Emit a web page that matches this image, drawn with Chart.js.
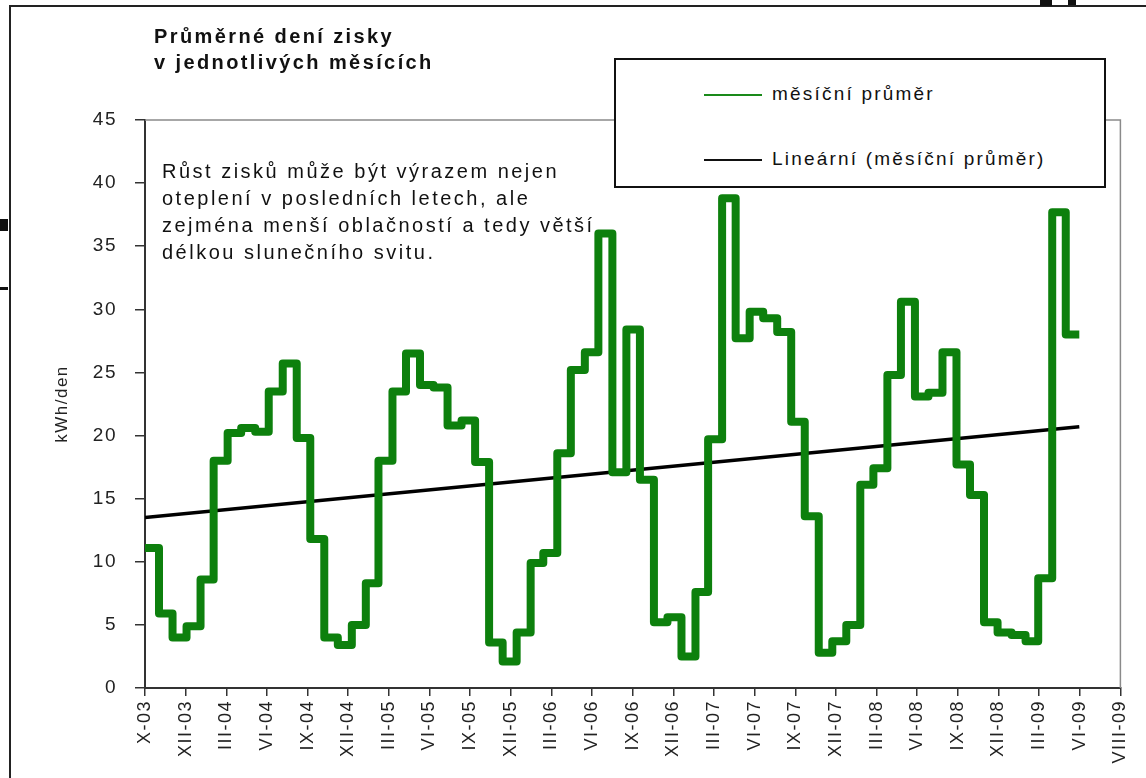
<!DOCTYPE html>
<html lang="cs">
<head>
  <meta charset="UTF-8" />
  <title>Průměrné dení zisky v jednotlivých měsících</title>
  <script src="https://cdn.jsdelivr.net/npm/chart.js@4"></script>
  <style>
    html, body { margin: 0; padding: 0; background: #fff; }
    body { font-family: "Liberation Sans", Arial, sans-serif; color: #111; }
    #wrap { position: relative; width: 1146px; height: 778px; overflow: hidden; }
    #frame { position: absolute; left: 9px; top: 5px; width: 1160px; height: 800px; border-left: 2px solid #222; border-top: 2px solid #222; }
    .scrap { position: absolute; background: #111; }
    #title { position: absolute; left: 154px; top: 23px; font-weight: bold; font-size: 20px; line-height: 26px; letter-spacing: 2.4px; }
    #note { position: absolute; left: 162px; top: 158px; font-size: 20px; line-height: 27px; letter-spacing: 2.5px; }
    #legend { position: absolute; left: 614px; top: 58px; width: 488px; height: 126px; border: 2px solid #111; background: #fff; }
    .leg-item { position: absolute; left: 88px; font-size: 19px; letter-spacing: 2.2px; line-height: 22px; }
    .leg-item span.ln { display: inline-block; width: 58px; height: 2px; vertical-align: middle; margin-right: 10px; }
    canvas { position: absolute; left: 0; top: 0; }
  </style>
</head>
<body>
  <div id="wrap">
    <div id="frame"></div>
    <div class="scrap" style="left:0;top:219px;width:8px;height:12px"></div>
    <div class="scrap" style="left:0;top:287px;width:8px;height:3px"></div>
    <div class="scrap" style="left:1040px;top:0;width:12px;height:6px"></div>
    <div class="scrap" style="left:1068px;top:0;width:8px;height:5px"></div>
    <canvas id="chart" width="1146" height="778"></canvas>
    <div id="title">Průměrné dení zisky<br>v jednotlivých měsících</div>
    <div id="note">Růst zisků může být výrazem nejen<br>oteplení v posledních letech, ale<br>zejména menší oblačností a tedy větší<br>délkou slunečního svitu.</div>
    <div id="legend">
      <div class="leg-item" style="top:23px"><span class="ln" style="background:#1a8a1a"></span>měsíční průměr</div>
      <div class="leg-item" style="top:88px"><span class="ln" style="background:#111"></span>Lineární (měsíční průměr)</div>
    </div>
  </div>

  <script>
    // měsíční průměry kWh/den, od X-2003 do V-2009
    const avg2003 = [11.1, 5.9, 4.0];                                                  // X-XII
    const avg2004 = [4.9, 8.6, 18.0, 20.2, 20.6, 20.3, 23.5, 25.7, 19.8, 11.8, 4.0, 3.4];
    const avg2005 = [5.0, 8.3, 18.0, 23.5, 26.5, 24.0, 23.8, 20.8, 21.2, 17.9, 3.6, 2.1];
    const avg2006 = [4.4, 9.9, 10.7, 18.6, 25.2, 26.6, 36.0, 17.1, 28.4, 16.5, 5.2, 5.6];
    const avg2007 = [2.5, 7.6, 19.7, 38.8, 27.7, 29.8, 29.3, 28.2, 21.1, 13.6, 2.8, 3.7];
    const avg2008 = [5.0, 16.1, 17.4, 24.8, 30.6, 23.1, 23.4, 26.6, 17.7, 15.3, 5.2, 4.4];
    const avg2009 = [4.2, 3.7, 8.7, 37.7, 28.0];                                       // I-V

    const years = [2003, 2004, 2005, 2006, 2007, 2008, 2009];
    const yearSeries = [avg2003, avg2004, avg2005, avg2006, avg2007, avg2008, avg2009];
    const firstMonth = [10, 1, 1, 1, 1, 1, 1];

    // lineární trend: hodnota na začátku a na konci řady
    const trendEnds = [13.5, 20.7];

    // popisky osy x (po 90 dnech od 1.10.2003)
    const xTickLabels = ['X-03', 'XII-03', 'III-04', 'VI-04', 'IX-04', 'XII-04', 'III-05', 'VI-05', 'IX-05',
      'XII-05', 'III-06', 'VI-06', 'IX-06', 'XII-06', 'III-07', 'VI-07', 'IX-07', 'XII-07', 'III-08',
      'VI-08', 'IX-08', 'XII-08', 'III-09', 'VI-09', 'VIII-09'];

    const origin = Date.UTC(2003, 9, 1);
    const dayOf = (y, m, d = 1) => (Date.UTC(y, m - 1, d) - origin) / 86400000;

    const monthly = [];
    yearSeries.forEach((arr, k) => {
      arr.forEach((v, i) => monthly.push({ x: dayOf(years[k], firstMonth[k] + i), y: v }));
    });
    const lastDay = dayOf(2009, 5, 31);
    monthly.push({ x: lastDay, y: avg2009[avg2009.length - 1] });

    const trend = [{ x: 0, y: trendEnds[0] }, { x: lastDay, y: trendEnds[1] }];

    const spacing = {
      id: 'spacing',
      beforeLayout(chart) { chart.ctx.letterSpacing = '1.5px'; },
      beforeDraw(chart) { chart.ctx.letterSpacing = '1.5px'; }
    };

    const plotFrame = {
      id: 'plotFrame',
      afterDatasetsDraw(chart) {
        const { ctx, chartArea: a } = chart;
        ctx.save();
        ctx.strokeStyle = '#8a8a8a';
        ctx.lineWidth = 1.5;
        ctx.beginPath();
        ctx.moveTo(a.left, a.top);
        ctx.lineTo(a.right, a.top);
        ctx.lineTo(a.right, a.bottom);
        ctx.stroke();
        ctx.restore();
      }
    };

    new Chart(document.getElementById('chart'), {
      type: 'line',
      data: {
        datasets: [
          {
            label: 'měsíční průměr',
            data: monthly,
            stepped: true,
            borderColor: '#0d800d',
            borderWidth: 8,
            borderJoinStyle: 'round',
            pointRadius: 0,
            fill: false
          },
          {
            label: 'Lineární (měsíční průměr)',
            data: trend,
            borderColor: '#000',
            borderWidth: 3.5,
            pointRadius: 0,
            fill: false
          }
        ]
      },
      options: {
        responsive: false,
        animation: false,
        layout: { padding: { left: 52, right: 23, top: 120, bottom: 0 } },
        plugins: {
          legend: { display: false },
          tooltip: { enabled: false }
        },
        scales: {
          x: {
            type: 'linear',
            min: 0,
            max: 2160,
            afterFit(s) { s.height = 90; },
            ticks: {
              stepSize: 90,
              autoSkip: false,
              minRotation: 90,
              maxRotation: 90,
              padding: 4,
              color: '#222',
              font: { family: 'Liberation Sans', size: 18 },
              callback: (v, i) => xTickLabels[i]
            },
            grid: { drawOnChartArea: false, tickLength: 8, color: '#333', lineWidth: 1.5 },
            border: { color: '#333', width: 2 }
          },
          y: {
            min: 0,
            max: 45,
            afterFit(s) { s.width = 93; },
            ticks: {
              stepSize: 5,
              padding: 18,
              color: '#222',
              font: { family: 'Liberation Sans', size: 19 }
            },
            title: {
              display: true,
              text: 'kWh/den',
              color: '#222',
              font: { family: 'Liberation Sans', size: 17 },
              padding: { top: 0, bottom: 0 }
            },
            grid: { drawOnChartArea: false, tickLength: 10, color: '#333', lineWidth: 1.5 },
            border: { color: '#333', width: 2 }
          }
        }
      },
      plugins: [spacing, plotFrame]
    });
  </script>
</body>
</html>
